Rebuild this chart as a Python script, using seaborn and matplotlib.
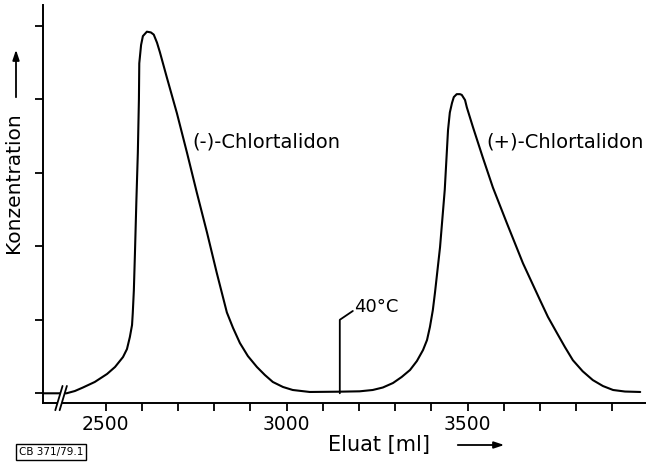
import matplotlib
matplotlib.use("Agg")
import matplotlib.pyplot as plt
import seaborn as sns
import pandas as pd
from matplotlib.patches import Polygon, FancyArrowPatch

# ---- data ----
eluat_ml = [2327, 2392, 2415, 2437, 2470, 2504, 2526, 2548, 2559, 2567, 2573, 2575,
            2578, 2581, 2585, 2589, 2592, 2593, 2598, 2603, 2614, 2625, 2633, 2642,
            2650, 2669, 2697, 2725, 2752, 2780, 2807, 2835, 2852, 2871, 2893, 2918,
            2940, 2962, 2990, 3017, 3064, 3147,
            3202, 3238, 3266, 3294, 3318, 3341, 3360, 3377, 3388, 3396, 3404, 3410,
            3424, 3437, 3446, 3451, 3457, 3462, 3470, 3479, 3484, 3493, 3498, 3515,
            3542, 3570, 3609, 3653, 3700, 3722, 3747, 3769, 3791, 3818, 3846, 3874,
            3902, 3935, 3977]
konzentration = [0.0, 0.0, 0.031, 0.078, 0.154, 0.263, 0.358, 0.493, 0.602, 0.766, 0.929, 1.09,
                 1.40, 1.90, 2.62, 3.27, 4.00, 4.49, 4.74, 4.86, 4.92, 4.91, 4.88, 4.77,
                 4.64, 4.30, 3.81, 3.27, 2.73, 2.19, 1.64, 1.10, 0.89, 0.684, 0.507, 0.358,
                 0.249, 0.154, 0.086, 0.045, 0.018, 0.022,
                 0.027, 0.045, 0.079, 0.140, 0.222, 0.317, 0.439, 0.589, 0.725, 0.902, 1.13, 1.37,
                 1.99, 2.77, 3.58, 3.82, 3.95, 4.03, 4.07, 4.07, 4.06, 3.99, 3.89, 3.62,
                 3.21, 2.80, 2.31, 1.77, 1.27, 1.04, 0.82, 0.629, 0.45, 0.30, 0.18, 0.099,
                 0.045, 0.024, 0.018]

x_ticks = [2500, 2600, 2700, 2800, 2900, 3000, 3100, 3200, 3300, 3400, 3500,
           3600, 3700, 3800, 3900]
x_tick_labels = ["2500", "", "", "", "", "3000", "", "", "", "", "3500", "", "", "", ""]
y_ticks = [0, 1, 2, 3, 4, 5]

peak_labels = ["(-)-Chlortalidon", "(+)-Chlortalidon"]
peak_label_x = [2741, 3553]
peak_label_y = [3.42, 3.42]

temp_label = "40°C"
temp_x = 3147
temp_y = 1.0

df = pd.DataFrame({"Eluat": eluat_ml, "Konzentration": konzentration})

sns.set_style("ticks")
plt.rcParams["font.family"] = ["DejaVu Sans"]
plt.rcParams["text.color"] = "black"
plt.rcParams["xtick.color"] = "black"
plt.rcParams["ytick.color"] = "black"

fig = plt.figure(figsize=(6.46, 4.63), dpi=100)
ax = fig.add_axes([43 / 646, 1 - 403 / 463, 1 - 43 / 646, (403 - 5) / 463])

sns.lineplot(data=df, x="Eluat", y="Konzentration", ax=ax, color="black",
             linewidth=1.5, sort=False, estimator=None)

ax.set_xlim(2327, 3993)
ax.set_ylim(-0.132, 5.283)
ax.set_xticks(x_ticks)
ax.set_xticklabels(x_tick_labels, fontsize=13.5, color="black")
ax.set_yticks(y_ticks)
ax.set_yticklabels([])
ax.set_xlabel("")
ax.set_ylabel("")
ax.tick_params(axis="both", direction="out", length=6, width=1.3, color="black",
               pad=3)
for side in ["top", "right"]:
    ax.spines[side].set_visible(False)
for side in ["left", "bottom"]:
    ax.spines[side].set_linewidth(1.4)
    ax.spines[side].set_color("black")

# peak labels
for lab, lx, ly in zip(peak_labels, peak_label_x, peak_label_y):
    ax.text(lx, ly, lab, fontsize=14, ha="left", va="center", color="black")

# temperature switch marker
ax.plot([temp_x, temp_x, temp_x + 36], [0.0, temp_y, temp_y + 0.12],
        color="black", linewidth=1.3)
ax.text(temp_x + 40, temp_y + 0.18, temp_label, fontsize=13, ha="left", va="center",
        color="black")

# axis break marks
gap = Polygon([(2361, -0.23), (2381, 0.10), (2393, 0.10), (2373, -0.23)],
              closed=True, facecolor="white", edgecolor="none", zorder=5,
              clip_on=False)
ax.add_patch(gap)
ax.plot([2361, 2381], [-0.23, 0.10], color="black", lw=1.3, zorder=6, clip_on=False)
ax.plot([2373, 2393], [-0.23, 0.10], color="black", lw=1.3, zorder=6, clip_on=False)

# axis titles with arrows
fig.text(328 / 646, 1 - 445 / 463, "Eluat [ml]", fontsize=15, ha="left", va="center",
         color="black")
fig.add_artist(FancyArrowPatch(
    (455 / 646, 1 - 445 / 463), (507 / 646, 1 - 445 / 463),
    transform=fig.transFigure, arrowstyle="-|>,head_length=6,head_width=2",
    color="black", lw=1.3))
fig.text(14 / 646, 1 - 183 / 463, "Konzentration", fontsize=14.5, rotation=90,
         ha="center", va="center", color="black")
fig.add_artist(FancyArrowPatch(
    (16 / 646, 1 - 100 / 463), (16 / 646, 1 - 47 / 463),
    transform=fig.transFigure, arrowstyle="-|>,head_length=6,head_width=2",
    color="black", lw=1.3))

# figure code box
fig.text(19 / 646, 1 - 452 / 463, "CB 371/79.1", fontsize=7.5, ha="left", va="center",
         color="black",
         bbox=dict(boxstyle="square,pad=0.25", facecolor="white", edgecolor="black",
                   linewidth=1.0))

fig.savefig("out.png", dpi=100)
